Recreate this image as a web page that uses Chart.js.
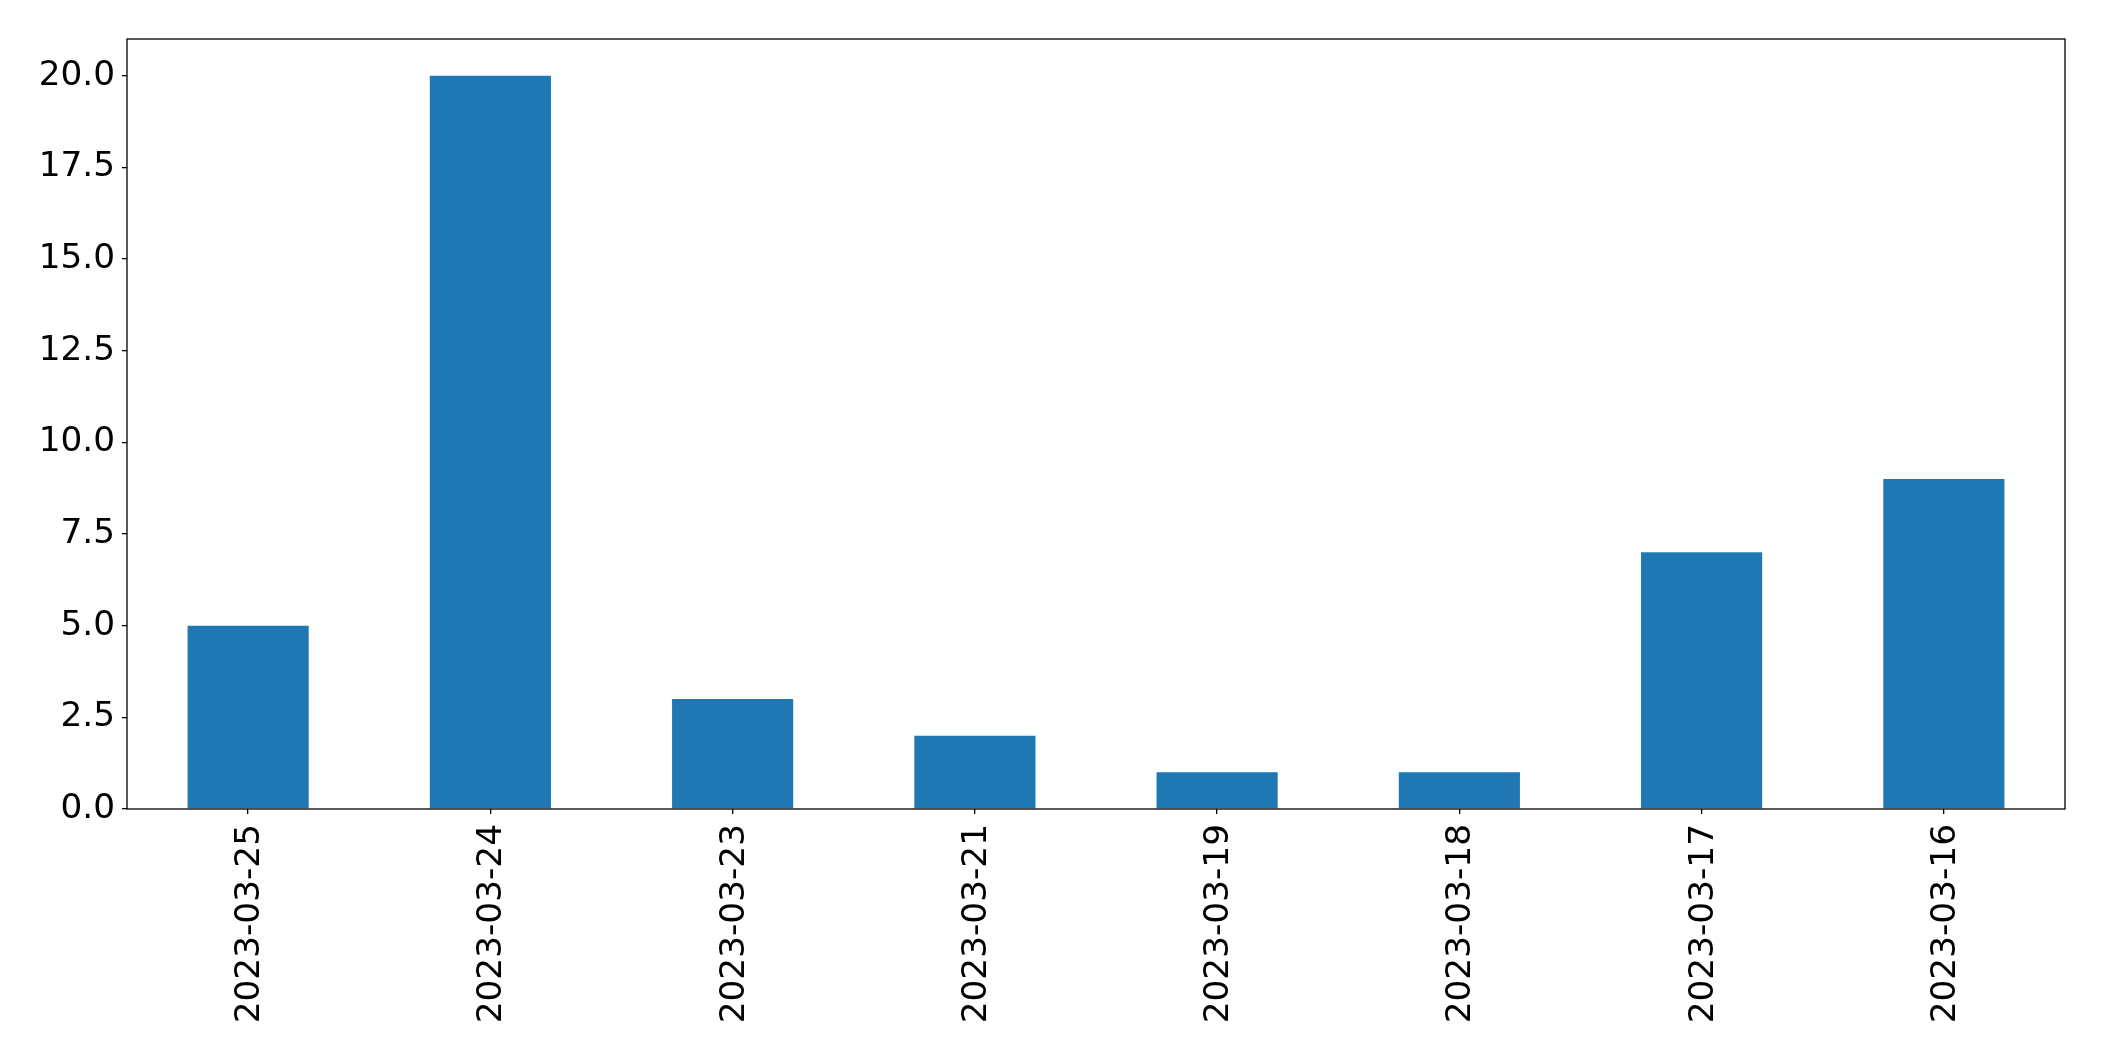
<!DOCTYPE html>
<html>
<head>
<meta charset="utf-8">
<script src="https://cdn.jsdelivr.net/npm/chart.js@4"></script>
<style>
  html, body { margin: 0; padding: 0; background: #fff; }
  #wrap { width: 2104px; height: 1061px; }
</style>
</head>
<body>
<div id="wrap"><canvas id="chart" width="2104" height="1061"></canvas></div>
<script>
// data
const days = ["2023-03-25", "2023-03-24", "2023-03-23", "2023-03-21", "2023-03-19", "2023-03-18", "2023-03-17", "2023-03-16"];
const counts = [5, 20, 3, 2, 1, 1, 7, 9];
const yTicks = [0, 2.5, 5, 7.5, 10, 12.5, 15, 17.5, 20];

const font = { family: "'DejaVu Sans', sans-serif", size: 34.3 };

// draw the full box round the plot area
const frame = {
    id: 'frame',
    afterDraw(c) {
        const a = c.chartArea;
        const ctx = c.ctx;
        ctx.save();
        ctx.strokeStyle = '#000';
        ctx.lineWidth = 1.3;
        ctx.strokeRect(a.left, a.top, a.right - a.left, a.bottom - a.top);
        ctx.restore();
    }
};

new Chart(document.getElementById('chart').getContext('2d'), {
    type: 'bar',
    data: {
        labels: days,
        datasets: [{
            data: counts,
            backgroundColor: '#1f77b4',
            barPercentage: 0.5,
            categoryPercentage: 1.0
        }]
    },
    options: {
        responsive: false,
        animation: false,
        layout: { padding: { left: 0, right: 39, top: 39, bottom: 0 } },
        plugins: { legend: { display: false }, tooltip: { enabled: false } },
        scales: {
            x: {
                grid: { display: true, offset: false, drawOnChartArea: false, drawTicks: true, tickLength: 5, color: '#000', lineWidth: 1.3 },
                border: { display: false },
                ticks: { color: '#000', font: font, minRotation: 90, maxRotation: 90, autoSkip: false, padding: 10, labelOffset: 2 },
                afterFit(s) { s.height = 1061 - 809; }
            },
            y: {
                min: 0,
                max: 21,
                grid: { display: true, drawOnChartArea: false, drawTicks: true, tickLength: 5, color: '#000', lineWidth: 1.3 },
                border: { display: false },
                afterBuildTicks(s) { s.ticks = yTicks.map(v => ({ value: v })); },
                ticks: {
                    color: '#000', font: font, padding: 7,
                    callback: v => Number(v).toFixed(1)
                },
                afterFit(s) { s.width = 127; }
            }
        }
    },
    plugins: [frame]
});
</script>
</body>
</html>
